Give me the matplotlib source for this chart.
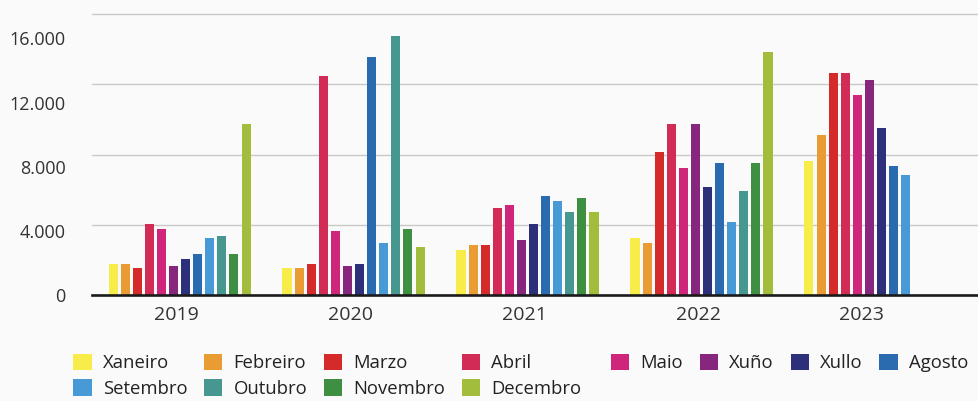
import numpy as np
import matplotlib.pyplot as plt
from matplotlib.ticker import FixedLocator

plt.rcParams['font.family'] = ['Open Sans', 'DejaVu Sans']

# data
years = ['2019', '2020', '2021', '2022', '2023']
months = ['Xaneiro', 'Febreiro', 'Marzo', 'Abril', 'Maio', 'Xuño',
          'Xullo', 'Agosto', 'Setembro', 'Outubro', 'Novembro', 'Decembro']
colors = ['#f8ec4b', '#e99b34', '#d42a2a', '#d22b55', '#cf267b', '#86267c',
          '#2c2f7a', '#2a6aaf', '#479ad5', '#45978f', '#3f8f43', '#a2bd3b']

v2019 = [1940, 1940, 1690, 4440, 4130, 1810, 2250, 2560, 3560, 3690, 2560, 10690]
v2020 = [1690, 1690, 1940, 13625, 4000, 1810, 1940, 14810, 3250, 16125, 4125, 3000]
v2021 = [2810, 3125, 3125, 5440, 5625, 3440, 4440, 6190, 5875, 5190, 6060, 5190]
v2022 = [3560, 3250, 8940, 10690, 7940, 10690, 6750, 8250, 4560, 6500, 8250, 15125]
v2023 = [8375, 10000, 13810, 13810, 12500, 13375, 10440, 8060, 7500, np.nan, np.nan, np.nan]

yticks = [0, 4000, 8000, 12000, 16000]
ytick_labels = ['0', '4.000', '8.000', '12.000', '16.000']
grid_vals = [4375, 8750, 13125, 17500]  # the gridlines don't line up with labels in the original
label_shift = [-0.017, -0.017, -0.017, -0.017, -0.078]

values = np.array([v2019, v2020, v2021, v2022, v2023])

bg = '#fafafa'
fig = plt.figure(figsize=(9.79, 4.01), dpi=100, facecolor=bg)
ax = fig.add_axes([0.094, 0.2636, 0.906, 0.7364], facecolor=bg)

x = np.arange(len(years))
slot = 0.0695
width = 0.052
handles = []
for j, m in enumerate(months):
    b = ax.bar(x + (j - 5.5) * slot, values[:, j], width=width,
               color=colors[j], label=m, zorder=2)
    handles.append(b)

ax.set_xlim(-0.503, 4.595)
ax.set_ylim(0, 18385)

ax.set_yticks(yticks)
ax.set_yticklabels(ytick_labels)
ax.yaxis.set_minor_locator(FixedLocator(grid_vals))
ax.grid(False)
ax.grid(which='minor', axis='y', color='#c8c8c8', linewidth=1.0, zorder=0)
ax.tick_params(axis='y', which='both', length=0, pad=19, labelsize=13, labelcolor='#333333')

ax.set_xticks(x + np.array(label_shift))
ax.set_xticklabels(years)
ax.tick_params(axis='x', length=0, pad=8, labelsize=14, labelcolor='#333333')

for s in ['top', 'right', 'left']:
    ax.spines[s].set_visible(False)
ax.spines['bottom'].set_linewidth(1.9)
ax.spines['bottom'].set_color('#1a1a1a')
ax.spines['bottom'].set_zorder(3)

# legend in two blocks: first four columns hold two rows, the rest one row
leg_kw = dict(frameon=False, fontsize=13.3, handlelength=1.0, handleheight=1.0,
              handletextpad=0.6, columnspacing=0.9, labelspacing=0.37,
              borderpad=0, borderaxespad=0, loc='upper left')
order1 = [0, 8, 1, 9, 2, 10, 3, 11]
leg1 = fig.legend([handles[i] for i in order1], [months[i] for i in order1],
                  ncol=4, bbox_to_anchor=(0.0746, 0.1175), **leg_kw)
order2 = [4, 5, 6, 7]
leg2 = fig.legend([handles[i] for i in order2], [months[i] for i in order2],
                  ncol=4, bbox_to_anchor=(0.6241, 0.1175), **leg_kw)
for leg in (leg1, leg2):
    for t in leg.get_texts():
        t.set_color('#222222')

fig.savefig('out.png', dpi=100, facecolor=bg)
